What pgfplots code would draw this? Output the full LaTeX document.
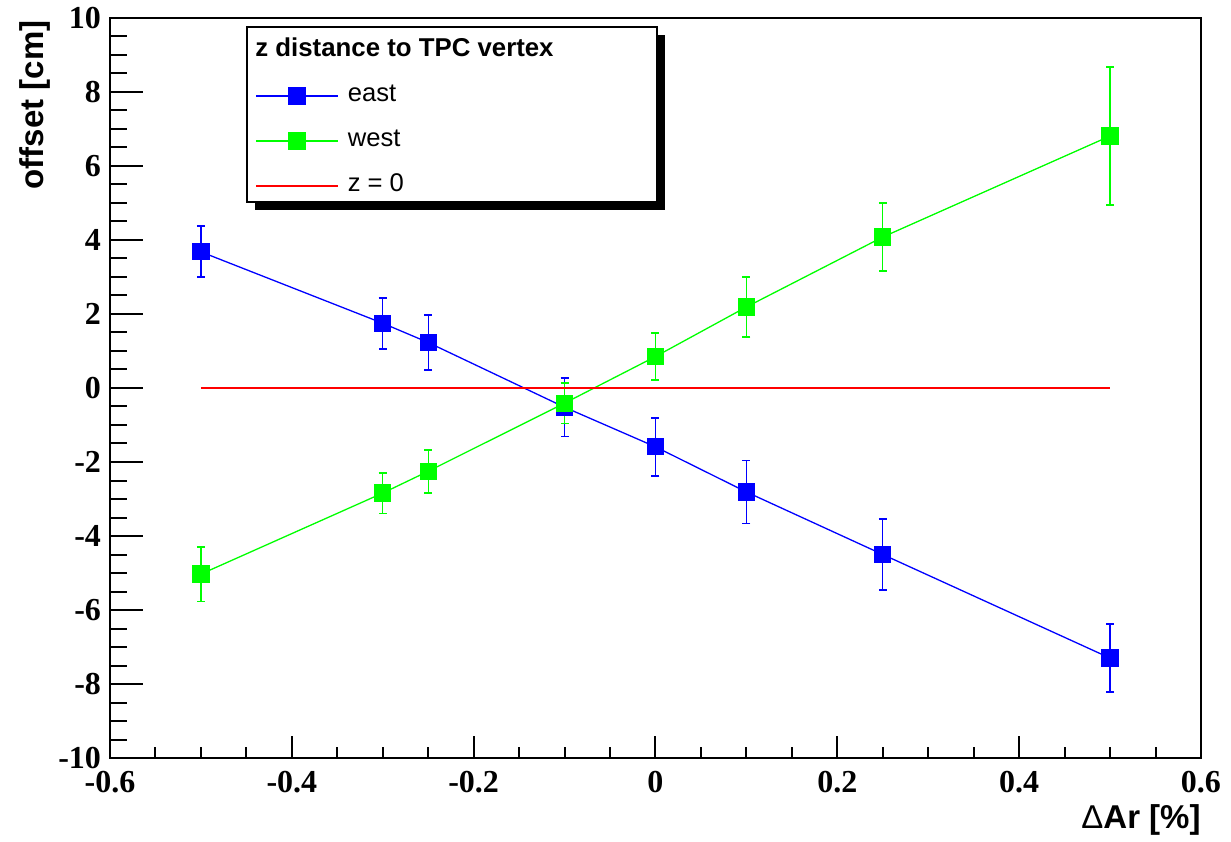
\documentclass[border=0pt]{standalone}
\usepackage{fontspec}
\setmainfont{Liberation Serif}
\newfontfamily\hv{Liberation Sans}
\usepackage{pgfplots}
\pgfplotsset{compat=1.18}
\pgfplotstableread{
x y e
-0.5 3.68 0.69
-0.3 1.75 0.69
-0.25 1.23 0.74
-0.1 -0.52 0.79
0 -1.59 0.78
0.1 -2.81 0.85
0.25 -4.50 0.96
0.5 -7.30 0.92
}\east
\pgfplotstableread{
x y e
-0.5 -5.03 0.74
-0.3 -2.84 0.55
-0.25 -2.25 0.58
-0.1 -0.41 0.55
0 0.85 0.63
0.1 2.19 0.82
0.25 4.08 0.91
0.5 6.81 1.87
}\west
\definecolor{rblue}{RGB}{0,0,255}
\definecolor{rgreen}{RGB}{0,255,0}
\definecolor{rred}{RGB}{255,0,0}
\begin{document}
\begin{tikzpicture}
\path[use as bounding box] (-55pt,-41.5pt) rectangle (560.5pt,379pt);
\begin{axis}[
  scale only axis, width=545.5pt, height=370pt,
  xmin=-0.6, xmax=0.6, ymin=-10, ymax=10,
  xtick={-0.6,-0.4,-0.2,0,0.2,0.4,0.6},
  ytick={-10,-8,-6,-4,-2,0,2,4,6,8,10},
  minor x tick num=3, minor y tick num=3,
  tick pos=left, tick align=inside,
  major tick length=11pt, minor tick length=5.5pt,
  major y tick style={/pgfplots/major tick length=16.5pt},
  minor y tick style={/pgfplots/minor tick length=8.5pt},
  tick style={black, line width=1pt},
  axis line style={line width=1.2pt},
  /pgf/number format/assume math mode=true,
  ticklabel style={font=\fontsize{16}{18}\selectfont\bfseries},
  xticklabel style={yshift=-3pt},
  yticklabel style={xshift=-1pt},
  xlabel={{\hv\fontsize{16.5}{18}\selectfont\bfseries{\mdseries Δ}Ar [\%]}},
  xlabel style={at={(axis description cs:1,-0.0838)}, anchor=east, inner sep=0pt},
  ylabel={{\hv\fontsize{16.5}{18}\selectfont\bfseries offset [cm]}},
  ylabel style={at={(axis description cs:-0.0687,0.997)}, anchor=east, inner sep=0pt},
  legend image code/.code={\draw[mark repeat=2,mark phase=2] plot coordinates {(0pt,0pt)(20.5pt,0pt)(41pt,0pt)};},
  legend style={at={(rel axis cs:0.1274,0.9196)}, anchor=north west, draw=none, fill=none,
    font=\hv\fontsize{12.8}{14}\selectfont, row sep=8.5pt, column sep=3.5pt,
    nodes={inner sep=1pt, text height=9pt, text depth=3pt}},
  legend cell align=left,
  clip=false,
]
\fill[black] (rel axis cs:0.1329,0.7406) rectangle (rel axis cs:0.5087,0.9770);
\draw[fill=white, line width=0.6pt] (rel axis cs:0.1256,0.7514) rectangle (rel axis cs:0.5014,0.9878);
\node[anchor=base west, inner sep=0pt, font=\hv\fontsize{12.9}{14}\selectfont\bfseries] at (rel axis cs:0.1329,0.9486) {z distance to TPC vertex};
\addplot[rblue, line width=0.65pt, mark=square*, mark size=4pt, forget plot,
  error bars/.cd, y dir=both, y explicit,
  error bar style={draw=rblue, line width=0.65pt},
  error mark options={draw=rblue, fill=rblue, rotate=90, mark size=2pt, line width=0.9pt}]
  table[x=x, y=y, y error=e] {\east};
\addplot[rgreen, line width=0.65pt, mark=square*, mark size=4pt, forget plot,
  error bars/.cd, y dir=both, y explicit,
  error bar style={draw=rgreen, line width=0.65pt},
  error mark options={draw=rgreen, fill=rgreen, rotate=90, mark size=2pt, line width=0.9pt}]
  table[x=x, y=y, y error=e] {\west};
\addplot[rred, line width=0.65pt, mark=none, forget plot] coordinates {(-0.5,0) (0.5,0)};
\addlegendimage{rblue, line width=0.7pt, mark=square*, mark size=4pt}
\addlegendentry{east}
\addlegendimage{rgreen, line width=0.7pt, mark=square*, mark size=4pt}
\addlegendentry{west}
\addlegendimage{rred, line width=0.7pt, mark=none}
\addlegendentry{z = 0}
\end{axis}
\end{tikzpicture}
\end{document}
